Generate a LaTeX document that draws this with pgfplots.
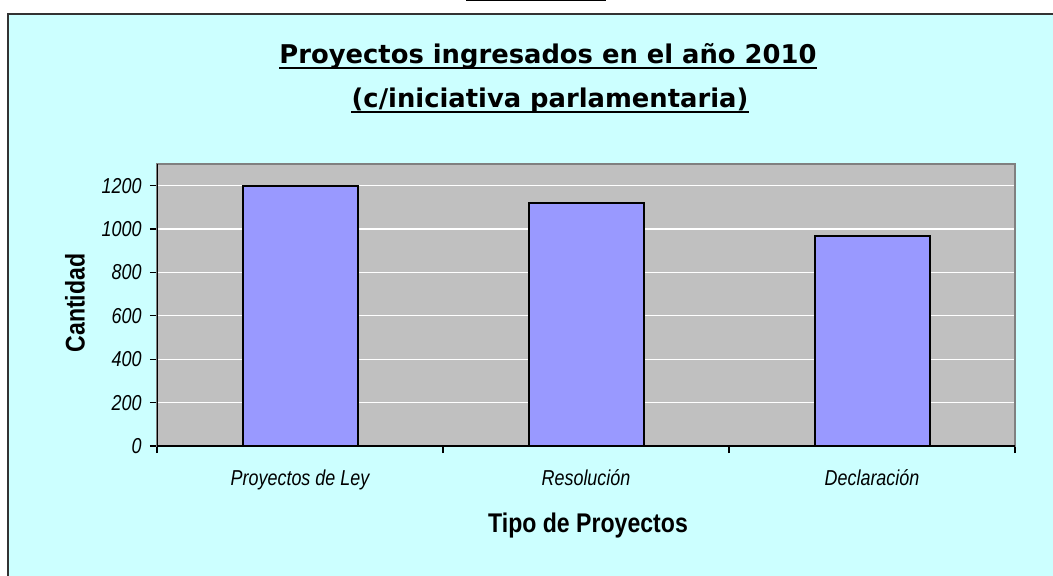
\documentclass[border=0pt]{standalone}
\usepackage{fontspec}
\setmainfont{Liberation Sans}
\newfontfamily\titlefont{DejaVu Sans}
\newfontfamily\tickfont{Liberation Sans}[FakeStretch=0.83]
\newfontfamily\labfont{Liberation Sans}[FakeStretch=0.855]
\usepackage{pgfplots}
\pgfplotsset{compat=1.18}
\definecolor{chartbg}{HTML}{CCFFFF}
\definecolor{plotbg}{HTML}{C0C0C0}
\definecolor{barfill}{HTML}{9999FF}
\definecolor{framecol}{HTML}{333333}
\definecolor{plotframe}{HTML}{808080}
\begin{document}
\begin{tikzpicture}
\useasboundingbox (0,0) rectangle (526.5pt,-288pt);
% background, frame and titles, in pixel units (y down)
\begin{scope}[x=0.5pt,y=-0.5pt]
  \fill[white] (0,0) rectangle (1053,576);
  \fill[chartbg] (7,13) rectangle (1053,576);
  \draw[framecol, line width=1pt] (8,576) -- (8,14) -- (1053,14);
  \fill[black] (466,0) rectangle (606,1.5);
  \node[font=\titlefont\bfseries\fontsize{12.9}{15}\selectfont, inner sep=0, anchor=base]
    (t1) at (548,64) {Proyectos ingresados en el año 2010\ };
  \node[font=\titlefont\bfseries\fontsize{12.9}{15}\selectfont, inner sep=0, anchor=base]
    (t2) at (550,108) {(c/iniciativa parlamentaria)};
  \draw[line width=1pt] ([yshift=-2.25pt]t1.base west) -- ([yshift=-2.25pt]t1.base east);
  \draw[line width=1pt] ([yshift=-2.25pt]t2.base west) -- ([yshift=-2.25pt]t2.base east);
  % axis titles
  \node[font=\labfont\bfseries\fontsize{13.5}{16}\selectfont, rotate=90, inner sep=0]
    at (75,303) {Cantidad};
  \node[font=\labfont\bfseries\fontsize{13.5}{16}\selectfont, anchor=base, inner sep=0]
    at (588,532) {Tipo de Proyectos};
\end{scope}

\begin{axis}[
    at={(78.5pt,-223pt)}, anchor=south west,
    scale only axis, width=429pt, height=141pt,
    xmin=0.5, xmax=3.5, ymin=0, ymax=1300,
    xtick={1,2,3},
    xticklabels={Proyectos de Ley, Resolución, Declaración},
    minor xtick={0.5,1.5,2.5,3.5},
    ytick={0,200,...,1200},
    tick pos=left,
    tick align=outside,
    major tick length=3.5pt, minor tick length=3.5pt,
    major x tick style={draw=none},
    tick style={black, line width=0.6pt},
    ymajorgrids,
    grid style={white, line width=0.6pt},
    axis background/.style={fill=plotbg},
    axis line style={draw=plotframe, line width=0.9pt},
    ticklabel style={font=\tickfont\itshape\fontsize{10.8}{13}\selectfont},
    /pgf/number format/assume math mode=true,
    /pgf/number format/1000 sep={},
    yticklabel style={anchor=east, inner sep=0pt, xshift=-4pt},
    xticklabel style={anchor=base, inner sep=0pt, yshift=-16pt},
    ybar, bar width=57.5pt,
]
\addplot[fill=barfill, draw=black, line width=1pt] coordinates {
    (1,1197)
    (2,1122)
    (3,970)
};
% dark value and category axes
\draw[black, line width=0.7pt] (rel axis cs:0,1) -- (rel axis cs:0,0) -- (rel axis cs:1,0);
\end{axis}
\end{tikzpicture}
\end{document}
